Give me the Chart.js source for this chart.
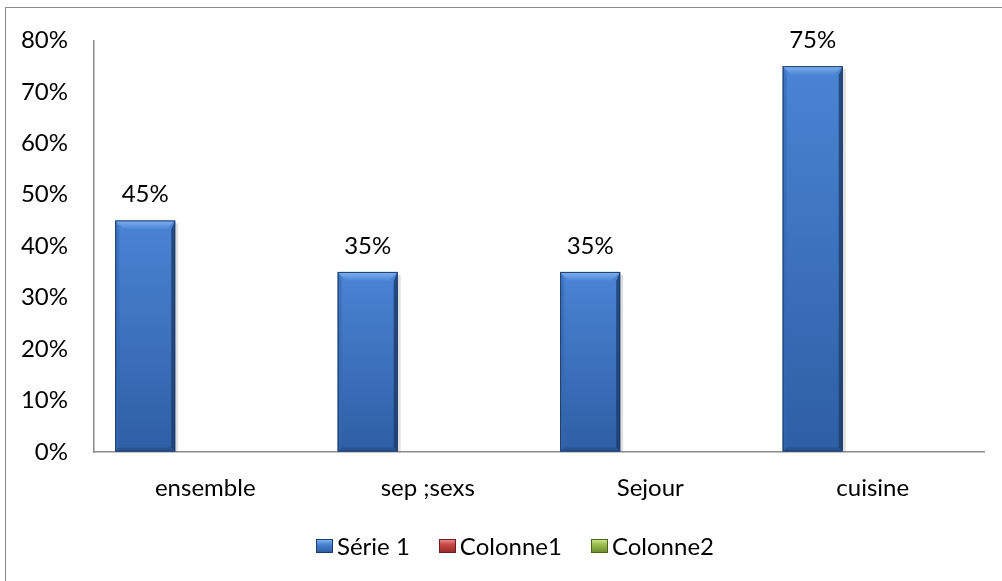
<!DOCTYPE html>
<html>
<head>
<meta charset="utf-8">
<script src="https://cdn.jsdelivr.net/npm/chart.js@4"></script>
<style>
  html, body { margin:0; padding:0; background:#fff; overflow:hidden; }
  #wrap { position:relative; width:1002px; height:581px; }
  #frame { position:absolute; left:5px; top:7px; width:1100px; height:700px; border:1.5px solid #8c8c8c; box-sizing:border-box; }
  canvas { position:absolute; left:0; top:0; }
  #legend { position:absolute; top:531px; left:316px; display:flex; align-items:center; font-family:Lato, sans-serif; font-size:24px; color:#000; white-space:nowrap; }
  .item { display:flex; align-items:center; margin-right:29px; }
  .sw { width:17px; height:14px; margin-right:4px; }
</style>
</head>
<body>
<div id="wrap">
  <div id="frame"></div>
  <canvas id="c" width="1002" height="581"></canvas>
  <div id="legend"></div>
</div>
<script>
const categories = ['ensemble', 'sep ;sexs', 'Sejour', 'cuisine'];
const serie1 = [45, 35, 35, 75];
const colonne1 = [null, null, null, null];
const colonne2 = [null, null, null, null];
const seriesNames = ['Série 1', 'Colonne1', 'Colonne2'];
const yTicks = [0, 10, 20, 30, 40, 50, 60, 70, 80];

const FONT = 'Lato, sans-serif';
const FS = 24;
const palettes = [
  { top:'#4a84d4', bot:'#2e5ea4', light:'#80b4f0', dark:'#1d3c6b', side:'#3569b3', bottom:'#284f8c' },
  { top:'#c84a48', bot:'#9a2c2a', light:'#e88a88', dark:'#6b1c1b', side:'#b03a38', bottom:'#8a2826' },
  { top:'#9cc04e', bot:'#6f8f2e', light:'#c7e58a', dark:'#4a6320', side:'#88ab3f', bottom:'#647f28' }
];

const bevelPlugin = {
  id: 'bevel',
  afterDatasetsDraw(chart) {
    const ctx = chart.ctx;
    chart.data.datasets.forEach((ds, di) => {
      const meta = chart.getDatasetMeta(di);
      const p = palettes[di];
      meta.data.forEach((bar, i) => {
        if (ds.data[i] == null) return;
        const w = bar.width;
        const l = bar.x - w / 2, r = bar.x + w / 2, t = bar.y, b = bar.base;
        const h = b - t;
        const bv = Math.min(9, h / 2);
        ctx.save();
        ctx.fillStyle = 'rgba(0,0,0,0.12)';
        ctx.fillRect(r, t + 3, 3, h - 3);
        const g = ctx.createLinearGradient(0, t, 0, b);
        g.addColorStop(0, p.top);
        g.addColorStop(1, p.bot);
        ctx.fillStyle = g;
        ctx.fillRect(l, t, w, h);
        const gt = ctx.createLinearGradient(0, t, 0, t + bv);
        gt.addColorStop(0, p.light);
        gt.addColorStop(1, p.top);
        ctx.fillStyle = gt;
        ctx.beginPath();
        ctx.moveTo(l, t); ctx.lineTo(r, t); ctx.lineTo(r - bv, t + bv); ctx.lineTo(l + bv, t + bv); ctx.closePath();
        ctx.fill();
        ctx.fillStyle = p.side;
        ctx.globalAlpha = 0.6;
        ctx.beginPath();
        ctx.moveTo(l, t); ctx.lineTo(l + 4, t + bv); ctx.lineTo(l + 4, b - 4); ctx.lineTo(l, b); ctx.closePath();
        ctx.fill();
        ctx.globalAlpha = 0.8;
        ctx.fillStyle = p.dark;
        ctx.beginPath();
        ctx.moveTo(r, t); ctx.lineTo(r - 4, t + bv); ctx.lineTo(r - 4, b - 4); ctx.lineTo(r, b); ctx.closePath();
        ctx.fill();
        ctx.globalAlpha = 0.7;
        ctx.fillStyle = p.bottom;
        ctx.beginPath();
        ctx.moveTo(l, b); ctx.lineTo(l + 4, b - 4); ctx.lineTo(r - 4, b - 4); ctx.lineTo(r, b); ctx.closePath();
        ctx.fill();
        ctx.globalAlpha = 1;
        ctx.strokeStyle = p.dark;
        ctx.lineWidth = 1;
        ctx.strokeRect(l + 0.5, t + 0.5, w - 1, h - 1);
        ctx.fillStyle = '#000';
        ctx.font = FS + 'px ' + FONT;
        ctx.textAlign = 'center';
        ctx.textBaseline = 'middle';
        ctx.fillText(ds.data[i] + '%', bar.x, t - 26);
        ctx.restore();
      });
    });
  }
};

const datasets = [serie1, colonne1, colonne2].map((d, i) => ({
  label: seriesNames[i],
  data: d,
  backgroundColor: 'rgba(0,0,0,0)',
  borderWidth: 0,
  barPercentage: 1.0,
  categoryPercentage: 0.81
}));

new Chart(document.getElementById('c'), {
  type: 'bar',
  data: { labels: categories, datasets },
  options: {
    responsive: false,
    animation: false,
    devicePixelRatio: 1,
    layout: { padding: { top: 37, right: 18, left: 0, bottom: 0 } },
    plugins: { legend: { display: false }, tooltip: { enabled: false } },
    scales: {
      x: {
        grid: { display: true, drawOnChartArea: false, drawTicks: false },
        border: { display: true, color: '#8c8c8c', width: 1.5 },
        ticks: { color: '#000', font: { family: FONT, size: FS }, padding: 22, maxRotation: 0 },
        afterFit(s) { s.height = 129; }
      },
      y: {
        min: 0, max: 80,
        afterBuildTicks(s) { s.ticks = yTicks.map(v => ({ value: v })); },
        grid: { display: true, drawOnChartArea: false, drawTicks: false },
        border: { display: true, color: '#8c8c8c', width: 1.5 },
        ticks: { color: '#000', font: { family: FONT, size: FS }, padding: 26, callback: v => v + '%' },
        afterFit(s) { s.width = 94; }
      }
    }
  },
  plugins: [bevelPlugin]
});

const leg = document.getElementById('legend');
seriesNames.forEach((n, i) => {
  const p = palettes[i];
  const it = document.createElement('div');
  it.className = 'item';
  const sw = document.createElement('div');
  sw.className = 'sw';
  sw.style.background = `linear-gradient(to bottom, ${p.light}, ${p.top} 35%, ${p.bot})`;
  sw.style.border = `1px solid ${p.dark}`;
  sw.style.boxSizing = 'border-box';
  const tx = document.createElement('span');
  tx.textContent = n;
  it.appendChild(sw); it.appendChild(tx);
  leg.appendChild(it);
});
</script>
</body>
</html>
